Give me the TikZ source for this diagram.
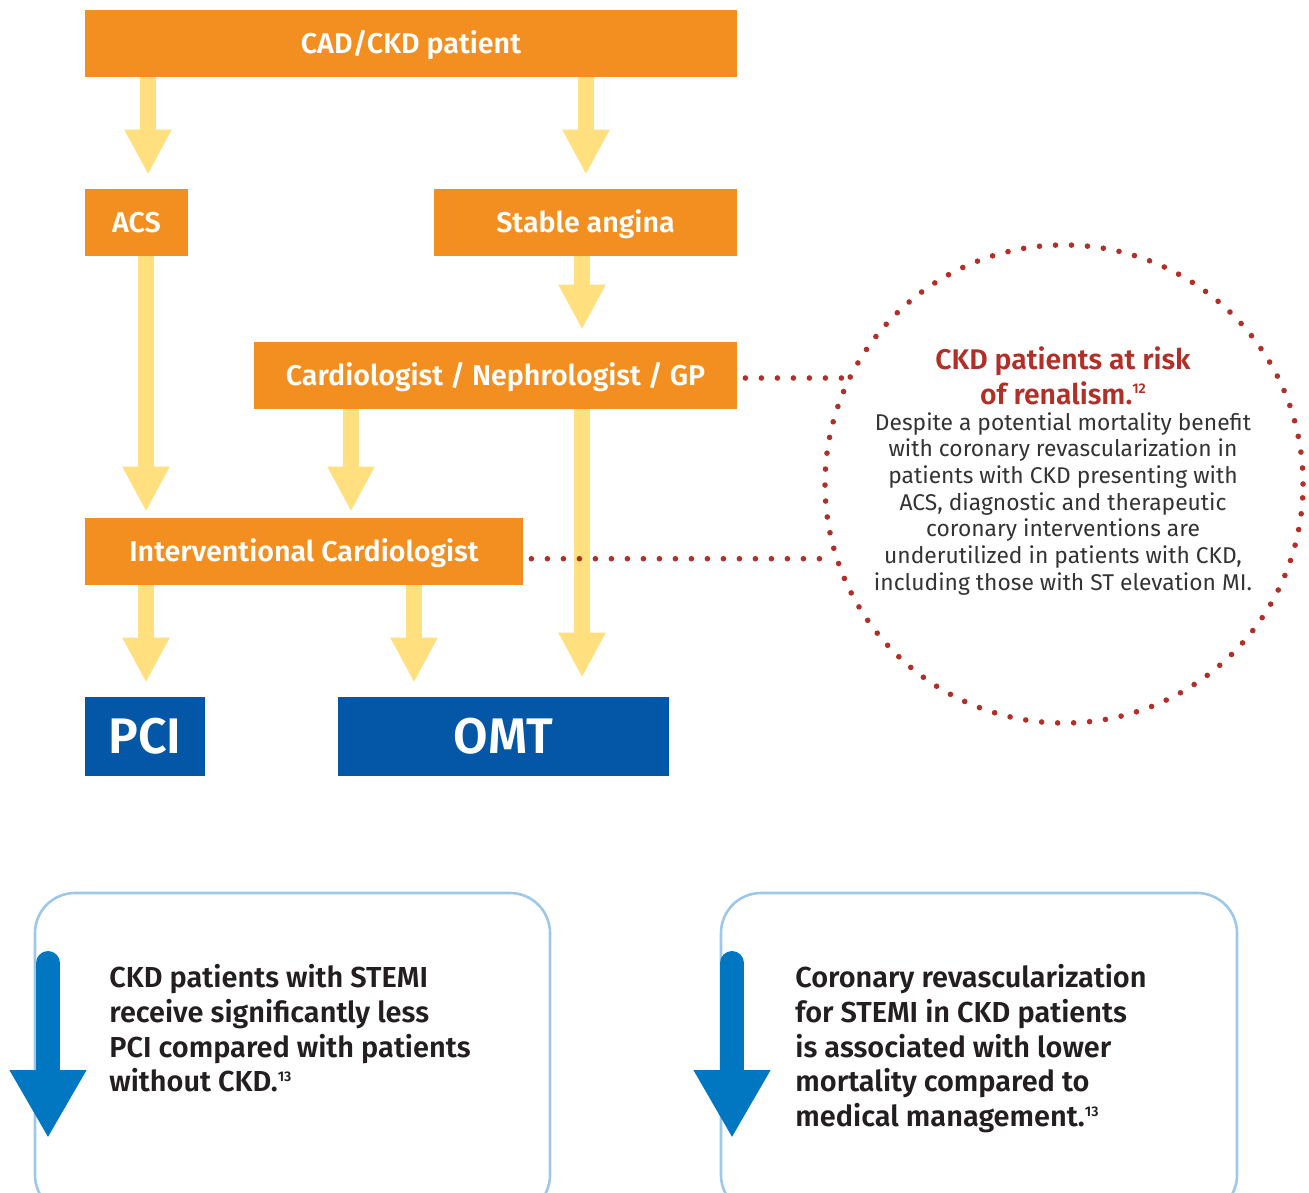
\documentclass[tikz,border=0pt]{standalone}
\usepackage{fontspec}
\setmainfont{Fira Sans}[BoldFont={Fira Sans SemiBold}]
\usetikzlibrary{arrows.meta,shapes.geometric}
\definecolor{boxorange}{HTML}{F38E21}
\definecolor{arrowyellow}{HTML}{FFDF7E}
\definecolor{boxblue}{HTML}{0457A7}
\definecolor{dotred}{HTML}{B12F27}
\definecolor{lightblue}{HTML}{9DC8EA}
\definecolor{arrowblue}{HTML}{0077C0}
\definecolor{darktext}{HTML}{231F20}
\definecolor{bodytext}{HTML}{333333}
\newcommand{\refsup}[1]{\raisebox{5.2pt}{\fontsize{7}{7}\selectfont #1}}
\tikzset{
  obox/.style={fill=boxorange, text=white, font=\fontsize{14.3}{16}\selectfont\bfseries, minimum height=33.5pt, inner sep=0pt, text height=9.85pt, text depth=0pt},
  bbox/.style={fill=boxblue, text=white, font=\fontsize{25}{28}\selectfont\bfseries, minimum height=39.5pt, inner sep=0pt, text height=17.2pt, text depth=0pt},
  yarrow/.style={draw=arrowyellow, line width=8pt, -{Triangle[width=22pt,length=22.5pt]}},
  dotline/.style={draw=dotred, line width=2.8pt, line cap=round, dash pattern=on 0pt off 8pt},
  infobox/.style={draw=lightblue, line width=1.3pt, rounded corners=20pt},
  barrow/.style={draw=arrowblue, line width=12pt, line cap=round, -{Triangle[width=36pt,length=34pt]}},
  infotext/.style={text=darktext, font=\fontsize{14.45}{17.35}\selectfont\bfseries, align=left, anchor=north west, inner sep=0pt}
}
\begin{document}
\begin{tikzpicture}[x=0.5pt,y=-0.5pt]
\useasboundingbox (0,0) rectangle (1309,1192);
\clip (0,0) rectangle (1309,1192);

% flow boxes
\node[obox, minimum width=326pt] (cad) at (411,43.5) {CAD/CKD patient};
\node[obox, minimum width=51.5pt] (acs) at (136.5,222.5) {ACS};
\node[obox, minimum width=151.5pt] (stable) at (585.5,222.5) {Stable angina};
\node[obox, minimum width=241.5pt] (cardio) at (495.5,375.5) {Cardiologist / Nephrologist / GP};
\node[obox, minimum width=219pt] (ic) at (304,551.5) {Interventional Cardiologist};
\node[bbox, minimum width=60pt] (pci) at (145,736.5) {PCI};
\node[bbox, minimum width=165.5pt] (omt) at (503.5,736.5) {OMT};

% arrow columns
\coordinate (x1) at (148,0);
\coordinate (x2) at (586,0);
\coordinate (x3) at (582,0);
\coordinate (x4) at (146,0);
\coordinate (x5) at (351,0);
\coordinate (x6) at (414,0);

\draw[yarrow, shorten >=7pt] (cad.south -| x1) -- (acs.north -| x1);
\draw[yarrow, shorten >=7pt] (cad.south -| x2) -- (stable.north -| x2);
\draw[yarrow, shorten >=6pt] (stable.south -| x3) -- (cardio.north -| x3);
\draw[yarrow, shorten >=3pt] (acs.south -| x4) -- (ic.north -| x4);
\draw[yarrow, shorten >=3pt] (cardio.south -| x5) -- (ic.north -| x5);
\draw[yarrow, shorten >=9.5pt] (cardio.south -| x3) -- (omt.north -| x3);
\draw[yarrow, shorten >=7pt] (ic.south -| x4) -- (pci.north -| x4);
\draw[yarrow, shorten >=7pt] (ic.south -| x6) -- (omt.north -| x6);

% dotted circle
\node[circle, dotline, minimum size=239pt, inner sep=0pt] (risk) at (1064,484) {};
\draw[dotline, shorten <=4pt] (cardio.east |- risk.154) -- (risk.154);
\draw[dotline, shorten <=4pt] (ic.east |- risk.198) -- (risk.198);

\node[text=dotred, font=\fontsize{14.2}{17.5}\selectfont\bfseries, align=center, anchor=north, inner sep=0pt] (risktitle) at (1063,346)
  {CKD patients at risk\\ of renalism.\refsup{12}};
\node[text=bodytext, font=\fontsize{11.4}{13.35}\selectfont, align=center, anchor=north, inner sep=0pt] (riskbody) at (1063,412)
  {Despite a potential mortality benefit\\ with coronary revascularization in\\ patients with CKD presenting with\\ ACS, diagnostic and therapeutic\\ coronary interventions are\\ underutilized in patients with CKD,\\ including those with ST elevation MI.};

% bottom info boxes
\draw[infobox] (35,893) rectangle (550,1215);
\draw[infobox] (721,893) rectangle (1237,1215);
\coordinate (ba1) at (48,963);
\coordinate (bt1) at (48,1138);
\coordinate (ba2) at (732,963);
\coordinate (bt2) at (732,1138);
\draw[barrow] (ba1) -- (bt1);
\draw[barrow] (ba2) -- (bt2);

\node[infotext] (info1) at (109,964)
  {CKD patients with STEMI\\ receive significantly less\\ PCI compared with patients\\ without CKD.\refsup{13}};
\node[infotext] (info2) at (795,964)
  {Coronary revascularization\\ for STEMI in CKD patients\\ is associated with lower\\ mortality compared to\\ medical management.\refsup{13}};
\end{tikzpicture}
\end{document}
